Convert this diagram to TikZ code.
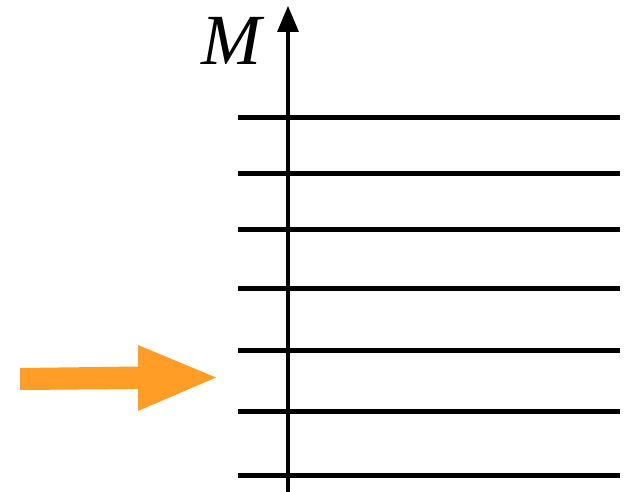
\documentclass[tikz,border=0pt]{standalone}
\usepackage{fontspec}
\setmainfont{Liberation Serif}
\begin{document}
\begin{tikzpicture}[x=1pt,y=-1pt,
  level/.style={line width=5pt},
  axisline/.style={line width=4.5pt},
  orangearrow/.style={fill={rgb,255:red,255;green,157;blue,38}, draw=none}]
\useasboundingbox (0,0) rectangle (630,492);
\foreach \yy [count=\i] in {118,174,230,288,350,411,475}{
  \coordinate (l\i) at (238,\yy);
  \coordinate (r\i) at (620,\yy);
  \draw[level] (l\i) -- (r\i);
}
\coordinate (abot) at (288,492);
\coordinate (atop) at (288,28);
\draw[axisline] (abot) -- (atop);
\coordinate (tip) at (288,6);
\fill (tip) -- (299,32) -- (277,32) -- cycle;
\node[font=\itshape\fontsize{72}{72}\selectfont, inner sep=0pt, anchor=base] (M) at (231,65) {M};
\fill[orangearrow] (20,368) -- (138,366.5) -- (138,345) -- (216,377.5) -- (138,411) -- (138,389) -- (20,390) -- cycle;
\end{tikzpicture}
\end{document}
